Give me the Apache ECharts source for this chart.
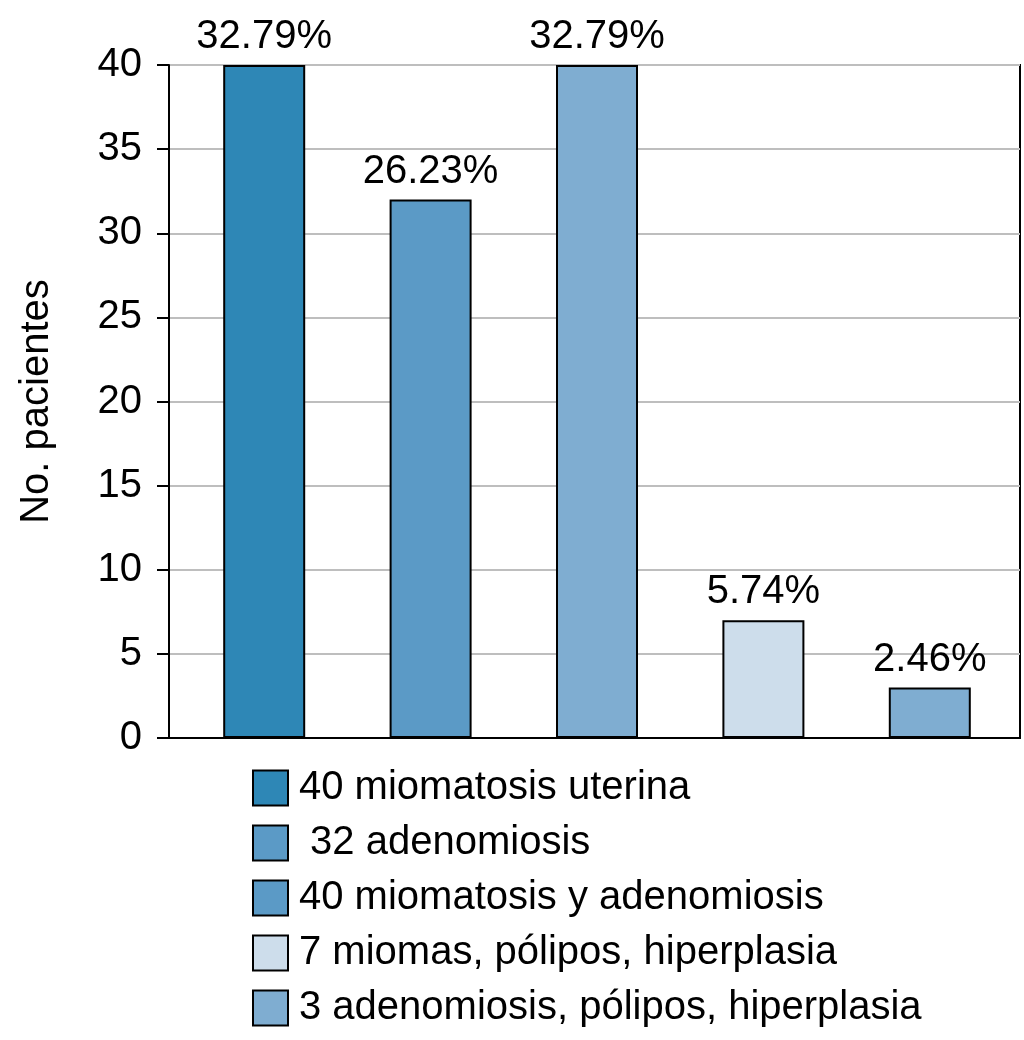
<!DOCTYPE html>
<html>
<head>
<meta charset="utf-8">
<script src="https://cdn.jsdelivr.net/npm/echarts@6/dist/echarts.min.js"></script>
<style>html,body{margin:0;padding:0;background:#fff}#c{width:1024px;height:1040px}</style>
</head>
<body>
<div id="c"></div>
<script>
const categories = ['40 miomatosis uterina', ' 32 adenomiosis', '40 miomatosis y adenomiosis', '7 miomas, pólipos, hiperplasia', '3 adenomiosis, pólipos, hiperplasia'];
const values = [40, 32, 40, 7, 3];
const percentages = ['32.79%', '26.23%', '32.79%', '5.74%', '2.46%'];
const barColors = ['#2E87B6', '#5B9AC6', '#7FADD1', '#CDDDEB', '#7FADD1'];
const legendColors = ['#2E87B6', '#5B9AC6', '#5B9AC6', '#CDDDEB', '#7FADD1'];
const yTicks = [0, 5, 10, 15, 20, 25, 30, 35, 40];

const FONT = 'Liberation Sans, Arial, sans-serif';
const chart = echarts.init(document.getElementById('c'));

const series = categories.map((name, i) => ({
  name: name,
  type: 'bar',
  xAxisIndex: 1,
  yAxisIndex: 1,
  stack: 'all',
  barWidth: 82,
  data: values.map((v, j) => (j === i ? v : null)),
  itemStyle: { color: barColors[i], borderColor: '#000', borderWidth: 2 },
  label: {
    show: true,
    position: 'top',
    distance: 8,
    color: '#000',
    fontFamily: FONT,
    fontSize: 40,
    formatter: () => percentages[i]
  },
  emphasis: { disabled: true }
}));

chart.setOption({
  animation: false,
  backgroundColor: '#fff',
  textStyle: { fontFamily: FONT },
  grid: [
    { left: 169, right: 4, top: 65, bottom: 302, show: true, borderColor: '#000', borderWidth: 2, backgroundColor: 'transparent', containLabel: false, outerBoundsMode: 'none' },
    { left: 181, right: 11, top: 65, bottom: 302, containLabel: false, outerBoundsMode: 'none' }
  ],
  legend: {
    orient: 'vertical',
    left: 252,
    top: 768,
    bottom: 0,
    padding: 0,
    itemWidth: 35,
    itemHeight: 35,
    itemGap: 15,
    icon: 'rect',
    selectedMode: false,
    textStyle: { fontFamily: FONT, fontSize: 40, color: '#000', padding: [0, 0, 0, 6] },
    itemStyle: { borderColor: '#000', borderWidth: 2 },
    data: categories.map((name, i) => ({ name: name, itemStyle: { color: legendColors[i], borderColor: '#000', borderWidth: 2 } }))
  },
  xAxis: [
    { type: 'category', gridIndex: 0, data: categories, axisLine: { lineStyle: { color: '#000', width: 2 } }, axisTick: { show: false }, axisLabel: { show: false } },
    { type: 'category', gridIndex: 1, data: categories, show: false }
  ],
  yAxis: [
    {
      type: 'value', gridIndex: 0, min: yTicks[0], max: yTicks[yTicks.length - 1], interval: 5,
      name: 'No. pacientes', nameLocation: 'middle', nameGap: 112,
      nameTextStyle: { fontFamily: FONT, fontSize: 40, color: '#000' },
      axisLine: { show: true, lineStyle: { color: '#000', width: 2 } },
      axisTick: { show: true, length: 12, lineStyle: { color: '#000', width: 2 } },
      axisLabel: { fontFamily: FONT, fontSize: 40, color: '#000', margin: 27 },
      splitLine: { show: true, lineStyle: { color: '#BEBEBE', width: 2 } }
    },
    { type: 'value', gridIndex: 1, min: 0, max: 40, show: false }
  ],
  series: series
});
</script>
</body>
</html>
